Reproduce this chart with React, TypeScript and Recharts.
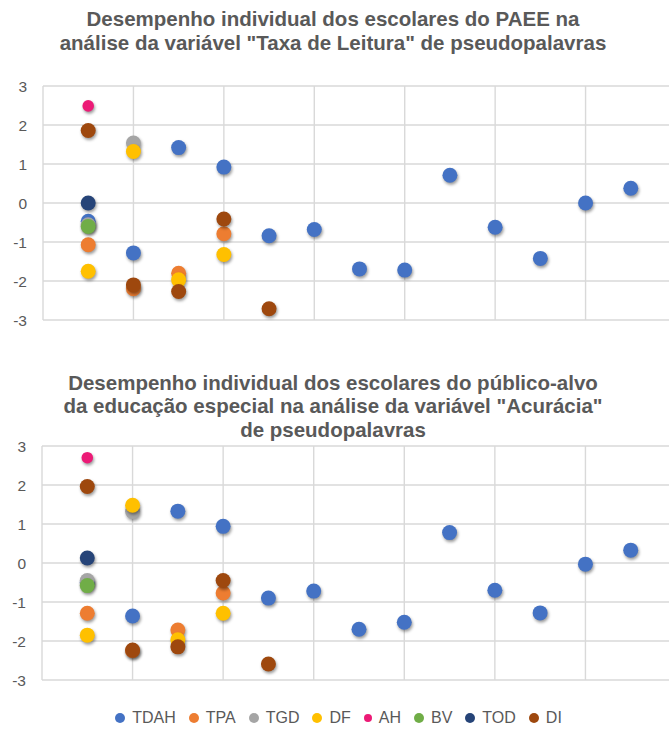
import { ScatterChart, Scatter, XAxis, YAxis, CartesianGrid } from 'recharts'

type Pair = [number, number]

// legend order = draw order (later series on top)
const grupos = ['TDAH', 'TPA', 'TGD', 'DF', 'AH', 'BV', 'TOD', 'DI']
const cores = ['#4472C4', '#ED7D31', '#A5A5A5', '#FFC000', '#EC1A76', '#70AD47', '#264478', '#9E480E']

const yTicks = [-3, -2, -1, 0, 1, 2, 3]
const xTicks = [0, 2, 4, 6, 8, 10, 12, 14]

// [aluno, escore] — Taxa de Leitura
const leituraTDAH: Pair[] = [[1, -0.47], [2, -1.28], [3, 1.42], [4, 0.92], [5, -0.84], [6, -0.68], [7, -1.69], [8, -1.72], [9, 0.71], [10, -0.62], [11, -1.42], [12, 0.0], [13, 0.38]]
const leituraTPA: Pair[] = [[1, -1.07], [2, -2.2], [3, -1.8], [4, -0.79]]
const leituraTGD: Pair[] = [[1, -0.56], [2, 1.54]]
const leituraDF: Pair[] = [[1, -1.75], [2, 1.32], [3, -1.97], [4, -1.32]]
const leituraAH: Pair[] = [[1, 2.49]]
const leituraBV: Pair[] = [[1, -0.6]]
const leituraTOD: Pair[] = [[1, 0.0]]
const leituraDI: Pair[] = [[1, 1.86], [2, -2.1], [3, -2.27], [4, -0.41], [5, -2.71]]

// [aluno, escore] — Acurácia
const acuraciaTDAH: Pair[] = [[1, -0.5], [2, -1.36], [3, 1.33], [4, 0.94], [5, -0.9], [6, -0.72], [7, -1.7], [8, -1.52], [9, 0.78], [10, -0.7], [11, -1.28], [12, -0.03], [13, 0.33]]
const acuraciaTPA: Pair[] = [[1, -1.29], [2, -2.25], [3, -1.72], [4, -0.77]]
const acuraciaTGD: Pair[] = [[1, -0.45], [2, 1.32]]
const acuraciaDF: Pair[] = [[1, -1.85], [2, 1.48], [3, -1.97], [4, -1.29]]
const acuraciaAH: Pair[] = [[1, 2.7]]
const acuraciaBV: Pair[] = [[1, -0.58]]
const acuraciaTOD: Pair[] = [[1, 0.13]]
const acuraciaDI: Pair[] = [[1, 1.96], [2, -2.23], [3, -2.15], [4, -0.45], [5, -2.59]]

const leitura = [leituraTDAH, leituraTPA, leituraTGD, leituraDF, leituraAH, leituraBV, leituraTOD, leituraDI]
const acuracia = [acuraciaTDAH, acuraciaTPA, acuraciaTGD, acuraciaDF, acuraciaAH, acuraciaBV, acuraciaTOD, acuraciaDI]

const font = '"Liberation Sans", Arial, sans-serif'
const textColor = '#595959'

function Dot(props: any) {
  const { cx, cy, fill, r } = props
  if (cx == null || cy == null) return null
  return (
    <circle
      cx={cx}
      cy={cy}
      r={r}
      fill={fill}
      style={{ filter: 'drop-shadow(1px 2px 1.5px rgba(0,0,0,0.4))' }}
    />
  )
}

function Painel({ series, yAxisWidth }: { series: Pair[][]; yAxisWidth: number }) {
  return (
    <ScatterChart width={700} height={340} margin={{ top: 86, right: 24, bottom: 20, left: 0 }}>
      <CartesianGrid stroke="#D9D9D9" strokeWidth={1.4} />
      <XAxis type="number" dataKey="x" domain={[0, 14]} ticks={xTicks} hide />
      <YAxis
        type="number"
        dataKey="y"
        domain={[-3, 3]}
        ticks={yTicks}
        width={yAxisWidth}
        axisLine={false}
        tickLine={false}
        tickMargin={10}
        tick={{ fontSize: 15.5, fill: textColor, fontFamily: font }}
      />
      {series.map((s, i) => (
        <Scatter
          key={grupos[i]}
          name={grupos[i]}
          data={s.map(([x, y]) => ({ x, y }))}
          fill={cores[i]}
          isAnimationActive={false}
          shape={(p: any) => <Dot {...p} fill={cores[i]} r={grupos[i] === 'AH' ? 5.8 : 7.5} />}
        />
      ))}
    </ScatterChart>
  )
}

const titleStyle: React.CSSProperties = {
  position: 'absolute',
  left: 0,
  width: 666,
  textAlign: 'center',
  fontFamily: font,
  fontWeight: 'bold',
  fontSize: 20.5,
  color: textColor,
  whiteSpace: 'nowrap',
}

export default function App() {
  return (
    <div style={{ position: 'absolute', left: 0, top: 0, width: 669, height: 733, overflow: 'hidden', background: '#fff' }}>
      <div style={{ ...titleStyle, top: 7, lineHeight: '23.5px' }}>
        Desempenho individual dos escolares do PAEE na
        <br />
        análise da variável "Taxa de Leitura" de pseudopalavras
      </div>
      <div style={{ position: 'absolute', left: 0, top: 0 }}>
        <Painel series={leitura} yAxisWidth={43} />
      </div>
      <div style={{ ...titleStyle, top: 371, lineHeight: '23.3px' }}>
        Desempenho individual dos escolares do público-alvo
        <br />
        da educação especial na análise da variável "Acurácia"
        <br />
        de pseudopalavras
      </div>
      <div style={{ position: 'absolute', left: 0, top: 360 }}>
        <Painel series={acuracia} yAxisWidth={42} />
      </div>
      <div
        style={{
          position: 'absolute',
          top: 707,
          left: 0,
          width: 669,
          display: 'flex',
          justifyContent: 'center',
          gap: 13,
          fontFamily: font,
          fontSize: 16,
          color: textColor,
          lineHeight: '22px',
          paddingLeft: 8,
          boxSizing: 'border-box',
        }}
      >
        {grupos.map((g, i) => (
          <div key={g} style={{ display: 'flex', alignItems: 'center', gap: 7 }}>
            <span
              style={{
                display: 'inline-block',
                width: g === 'AH' ? 8 : 10,
                height: g === 'AH' ? 8 : 10,
                borderRadius: '50%',
                background: cores[i],
              }}
            />
            <span>{g}</span>
          </div>
        ))}
      </div>
    </div>
  )
}
